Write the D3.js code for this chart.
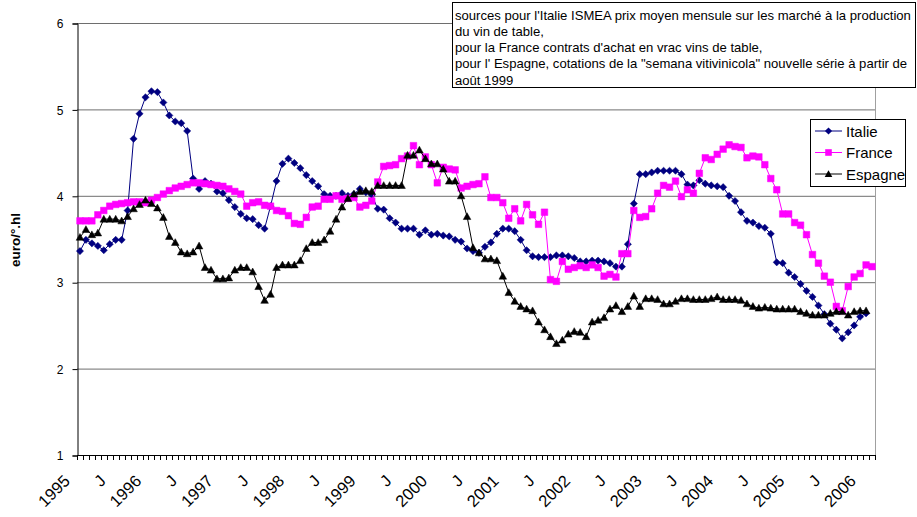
<!DOCTYPE html>
<html><head><meta charset="utf-8">
<script src="https://cdn.jsdelivr.net/npm/d3@7/dist/d3.min.js"></script>
<style>
html,body{margin:0;padding:0;background:#fff;}
svg{display:block;font-family:"Liberation Sans",Arial,sans-serif;}
</style></head>
<body><svg id="chart" width="917" height="517"></svg>
<script>
const years = [1995,1996,1997,1998,1999,2000,2001,2002,2003,2004,2005,2006];
const monthCount = 134; // janvier 1995 -> février 2006
const tickLabels = ["1995","J","1996","J","1997","J","1998","J","1999","J","2000","J","2001","J","2002","J","2003","J","2004","J","2005","J","2006"];
const yTicks = [1,2,3,4,5,6];
const seriesNames = ["Italie","France","Espagne"];

const italie = [3.36,3.49,3.45,3.42,3.37,3.44,3.49,3.49,3.83,4.66,
 4.95,5.14,5.21,5.20,5.08,4.93,4.86,4.84,4.75,4.20,
 4.08,4.17,4.14,4.05,4.03,3.95,3.87,3.79,3.74,3.73,
 3.66,3.62,3.88,4.17,4.37,4.43,4.38,4.32,4.24,4.17,
 4.11,4.02,4.00,4.00,4.03,4.00,4.02,4.08,4.04,4.01,
 3.85,3.84,3.74,3.69,3.62,3.62,3.62,3.55,3.60,3.55,
 3.56,3.54,3.53,3.49,3.47,3.39,3.36,3.34,3.41,3.46,
 3.56,3.62,3.62,3.59,3.49,3.37,3.30,3.29,3.29,3.29,
 3.31,3.31,3.30,3.28,3.24,3.24,3.25,3.25,3.24,3.22,
 3.18,3.18,3.44,3.91,4.25,4.25,4.27,4.29,4.29,4.29,
 4.29,4.25,4.13,4.12,4.18,4.14,4.12,4.11,4.10,4.00,
 3.94,3.81,3.71,3.69,3.65,3.63,3.56,3.23,3.22,3.11,
 3.06,2.98,2.90,2.83,2.73,2.63,2.52,2.45,2.35,2.42,
 2.50,2.60,2.64];

const france = [3.71,3.71,3.71,3.78,3.83,3.88,3.90,3.91,3.92,3.93,
 3.93,3.92,3.95,3.98,4.02,4.06,4.09,4.11,4.13,4.15,
 4.15,4.14,4.13,4.12,4.11,4.08,4.05,4.02,3.88,3.92,
 3.93,3.89,3.88,3.83,3.82,3.77,3.68,3.67,3.75,3.87,
 3.88,3.96,3.96,4.00,3.96,3.97,3.98,3.87,3.89,3.94,
 4.16,4.34,4.35,4.36,4.43,4.46,4.58,4.36,4.45,4.36,
 4.15,4.33,4.31,4.30,4.09,4.11,4.13,4.14,4.22,3.98,
 3.98,3.92,3.74,3.85,3.71,3.90,3.78,3.67,3.81,3.03,
 3.01,3.24,3.15,3.17,3.19,3.17,3.20,3.17,3.07,3.09,
 3.06,3.33,3.33,3.83,3.75,3.76,3.85,4.03,4.12,4.10,
 4.17,3.99,4.07,4.03,4.26,4.44,4.42,4.48,4.54,4.59,
 4.57,4.56,4.44,4.46,4.45,4.36,4.20,4.07,3.79,3.79,
 3.69,3.66,3.55,3.32,3.22,3.07,3.00,2.72,2.67,2.95,
 3.06,3.10,3.20,3.18];

const espagne = [3.52,3.61,3.55,3.57,3.73,3.73,3.73,3.71,3.76,3.85,
 3.90,3.95,3.91,3.86,3.75,3.53,3.46,3.35,3.33,3.35,
 3.42,3.17,3.14,3.04,3.04,3.05,3.14,3.17,3.17,3.12,
 2.95,2.79,2.86,3.17,3.20,3.20,3.20,3.25,3.39,3.46,
 3.46,3.49,3.59,3.73,3.87,3.97,4.02,4.05,4.06,4.05,
 4.12,4.12,4.12,4.12,4.12,4.47,4.47,4.53,4.43,4.37,
 4.37,4.31,4.17,4.17,4.00,3.76,3.40,3.34,3.27,3.27,
 3.25,3.07,2.88,2.78,2.72,2.69,2.67,2.54,2.45,2.37,
 2.29,2.33,2.40,2.43,2.42,2.37,2.54,2.56,2.59,2.69,
 2.73,2.66,2.72,2.84,2.72,2.81,2.81,2.80,2.75,2.75,
 2.78,2.81,2.81,2.80,2.80,2.80,2.81,2.83,2.80,2.80,
 2.80,2.79,2.75,2.72,2.70,2.71,2.70,2.69,2.69,2.69,
 2.69,2.66,2.64,2.62,2.62,2.62,2.64,2.66,2.66,2.62,
 2.66,2.67,2.67];

const noteLines = [
 "sources pour l'Italie ISMEA prix moyen mensule sur les marché à la production",
 "du vin de table,",
 "pour la France contrats d'achat en vrac vins de table,",
 "pour l' Espagne, cotations de la \"semana vitivinicola\" nouvelle série à partir de",
 "août 1999"];

// categories (months)
const categories = [];
for (const y of years) for (let m = 1; m <= 12; m++) if (categories.length < monthCount) categories.push(y + "-" + String(m).padStart(2,"0"));

const svg = d3.select("#chart");
const L = 77, R = 875, T = 23, B = 455;
const x = d3.scaleBand().domain(categories).range([L, R]).paddingInner(0).paddingOuter(0);
const bw = x.bandwidth();
const cx = i => x(categories[i]) + bw / 2;
const y = d3.scaleLinear().domain([1, 6]).range([B, T]);

// gridlines
svg.append("g").selectAll("line").data(yTicks.filter(v => v > 1)).join("line")
  .attr("x1", L).attr("x2", R).attr("y1", d => y(d) + 0.5).attr("y2", d => y(d) + 0.5)
  .attr("stroke", "#6e6e6e").attr("stroke-width", 1);
// right border of plot
svg.append("line").attr("x1", R + 0.5).attr("x2", R + 0.5).attr("y1", T).attr("y2", B)
  .attr("stroke", "#a0a0a0").attr("stroke-width", 1);

// y axis
const yAxis = d3.axisLeft(y).tickValues(yTicks).tickSize(5).tickFormat(d3.format("d"));
const gy = svg.append("g").attr("transform", `translate(${L + 0.5},0.5)`).call(yAxis);
gy.select(".domain").attr("stroke", "#000");
gy.selectAll(".tick line").attr("stroke", "#000");
gy.selectAll(".tick text").attr("font-size", "12px").attr("font-family", "Liberation Sans, Arial, sans-serif").attr("fill", "#000").attr("x", -14).attr("dy", "0.35em");

// x axis line with ticks between categories
svg.append("line").attr("x1", L).attr("x2", R + 1).attr("y1", B + 0.5).attr("y2", B + 0.5).attr("stroke", "#000");
const boundaries = d3.range(categories.length + 1);
svg.append("g").selectAll("line").data(boundaries).join("line")
  .attr("x1", d => Math.round(L + d * bw) + 0.5).attr("x2", d => Math.round(L + d * bw) + 0.5)
  .attr("y1", B).attr("y2", B + 5).attr("stroke", "#000");

// x tick labels
svg.append("g").selectAll("text").data(tickLabels).join("text")
  .attr("transform", (d, k) => `translate(${cx(k * 6) - 9},${482}) rotate(-45)`)
  .attr("text-anchor", "end").attr("font-size", "16.5px").attr("fill", "#000")
  .text(d => d);

// y title
svg.append("text").attr("transform", "translate(20,240) rotate(-90)")
  .attr("text-anchor", "middle").attr("font-size", "13.5px").attr("font-weight", "bold")
  .text("euro/°.hl");

// markers
const markerPath = {
  Italie: "M0,-3.6L3.6,0L0,3.6L-3.6,0Z",
  France: "M-3.3,-3.3H3.3V3.3H-3.3Z",
  Espagne: "M0,-3.8L3.8,3L-3.8,3Z"
};
const colors = { Italie: "#000080", France: "#FF00FF", Espagne: "#000000" };
const dataBy = { Italie: italie, France: france, Espagne: espagne };

const line = d3.line().x((d, i) => cx(i)).y(d => y(d));
for (const name of seriesNames) {
  const vals = dataBy[name];
  const g = svg.append("g");
  g.append("path").attr("d", line(vals)).attr("fill", "none").attr("stroke", colors[name]).attr("stroke-width", 1);
  g.selectAll("path.m").data(vals).join("path").attr("class", "m")
    .attr("transform", (d, i) => `translate(${cx(i)},${y(d)})`)
    .attr("d", markerPath[name]).attr("fill", colors[name]).attr("stroke", colors[name]).attr("stroke-width", 0.5);
}

// note box
svg.append("rect").attr("x", 452.5).attr("y", 2.5).attr("width", 463).attr("height", 85)
  .attr("fill", "#fff").attr("stroke", "#000");
svg.append("g").selectAll("text").data(noteLines).join("text")
  .attr("x", 455).attr("y", (d, i) => 19.5 + i * 16.3)
  .attr("font-size", "13.1px").attr("fill", "#000").text(d => d);

// legend
const lg = svg.append("g");
lg.append("rect").attr("x", 810.5).attr("y", 119.5).attr("width", 95).attr("height", 67)
  .attr("fill", "#fff").attr("stroke", "#000");
seriesNames.forEach((name, k) => {
  const yy = 131 + k * 21.5;
  lg.append("line").attr("x1", 815).attr("x2", 842).attr("y1", yy).attr("y2", yy).attr("stroke", colors[name]);
  lg.append("path").attr("transform", `translate(828.5,${yy})`).attr("d", markerPath[name]).attr("fill", colors[name]);
  lg.append("text").attr("x", 846).attr("y", yy + 5.5).attr("font-size", "15px").text(name);
});
</script></body></html>
